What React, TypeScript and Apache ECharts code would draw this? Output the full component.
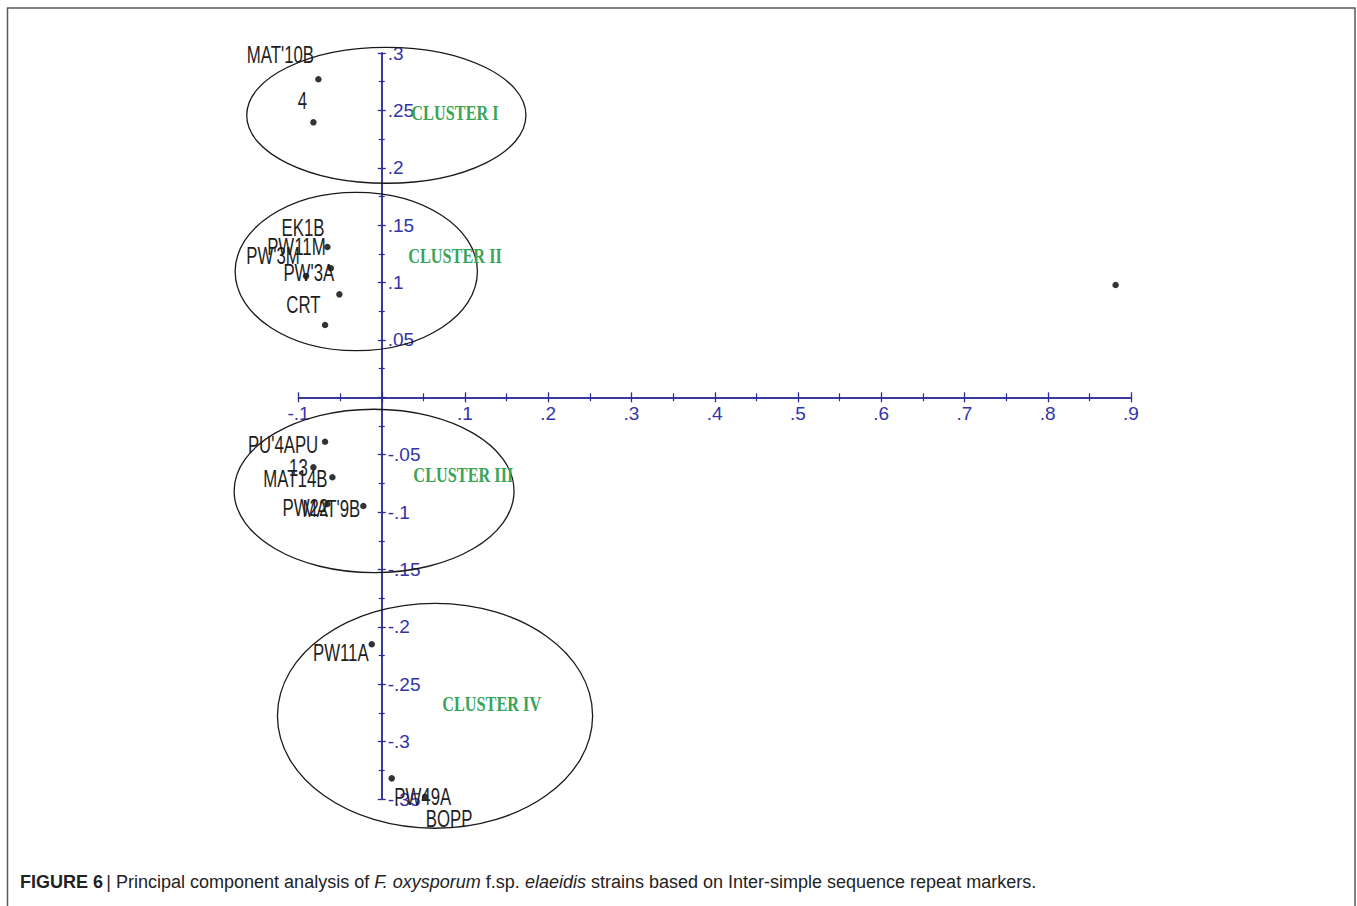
import React, { useEffect, useRef } from "react";
import * as echarts from "echarts";

// ---- data (PC1, PC2 scores) ----
const strainNames = [
  "MAT'10B", "4",
  "PW11M", "PW'3A", "PW'3M", "CRT", "EK1B",
  "",
  "PU'4APU", "13", "MAT14B", "PW22", "MAT'9B",
  "PW11A", "PW49A", "BOPP",
];
const pc1 = [
  -0.0761, -0.0821,
  -0.0653, -0.0612, -0.0909, -0.0509, -0.0681,
  0.8815,
  -0.0681, -0.0821, -0.0593, -0.0653, -0.0221,
  -0.012, 0.012, 0.052,
];
const pc2 = [
  0.2771, 0.2396,
  0.131, 0.1124, 0.1057, 0.0897, 0.063,
  0.0979,
  -0.0387, -0.061, -0.0697, -0.093, -0.0947,
  -0.2152, -0.332, -0.348,
];

// label placement (pixel offsets of label centre from the marker)
const labelDx = [-38, -11, -31, -22, -33, -36, -22, 0, -42, -15, -37, -22, -32, -31, 31, 24];
const labelDy = [-24, -21, 0, 5, -20, 11, -97, 0, 3, 1, 2, 4, 3, 9, 19, 22];

// cluster ellipses: centre x, centre y, radius x, radius y (data units)
const clusterCx = [0.0055, -0.0306, -0.0092, 0.064];
const clusterCy = [0.2457, 0.1096, -0.0816, -0.2775];
const clusterRx = [0.1677, 0.1455, 0.1681, 0.1893];
const clusterRy = [0.0592, 0.069, 0.0712, 0.098];
const clusterNames = ["CLUSTER I", "CLUSTER II", "CLUSTER III", "CLUSTER IV"];
const clusterLabelX = [0.088, 0.088, 0.098, 0.132];
const clusterLabelY = [0.248, 0.1234, -0.0677, -0.2672];

const xMin = -0.1, xMax = 0.9, xStep = 0.1;
const yMin = -0.35, yMax = 0.3, yStep = 0.05;

const GRID_LEFT = 298.5, GRID_TOP = 53, GRID_W = 832.5, GRID_H = 746;

const AXIS_BLUE = "#2c2c98";
const LABEL_BLUE = "#3434aa";
const SANS = "'Liberation Sans', Arial, sans-serif";

function fmt(v: number): string {
  if (Math.abs(v) < 1e-9) return "";
  const s = String(parseFloat(v.toFixed(3)));
  return s.replace(/^(-?)0\./, "$1.");
}

export default function App() {
  const ref = useRef<HTMLDivElement>(null);
  useEffect(() => {
    if (!ref.current) return;
    const chart = echarts.init(ref.current, undefined, { renderer: "svg" });

    const pointData = strainNames.map((n, i) => ({ name: n, value: [pc1[i], pc2[i]] }));
    const ellipseData = clusterCx.map((cx, i) => [cx, clusterCy[i], clusterRx[i], clusterRy[i]]);
    const clusterTextData = clusterNames.map((n, i) => ({ name: n, value: [clusterLabelX[i], clusterLabelY[i]] }));

    // place the axes through the origin (moves line, ticks and labels together)
    const xAxisOffset = -GRID_H * (0 - yMin) / (yMax - yMin);
    const yAxisOffset = -GRID_W * (0 - xMin) / (xMax - xMin);

    const baseX = {
      type: "value" as const,
      min: xMin,
      max: xMax,
      interval: xStep,
      position: "bottom" as const,
      offset: xAxisOffset,
      splitLine: { show: false },
      axisLine: { show: true, onZero: false, lineStyle: { color: AXIS_BLUE, width: 1.5 } },
    };
    const baseY = {
      type: "value" as const,
      min: yMin,
      max: yMax,
      interval: yStep,
      position: "left" as const,
      offset: yAxisOffset,
      splitLine: { show: false },
      axisLine: { show: true, onZero: false, lineStyle: { color: AXIS_BLUE, width: 1.5 } },
    };

    chart.setOption({
      animation: false,
      backgroundColor: "#ffffff",
      grid: { left: GRID_LEFT, top: GRID_TOP, width: GRID_W, height: GRID_H, containLabel: false },
      xAxis: [
        {
          ...baseX,
          axisTick: { show: true, inside: false, length: 5, lineStyle: { color: AXIS_BLUE, width: 1.3 } },
          minorTick: { show: true, splitNumber: 2, length: 4, lineStyle: { color: AXIS_BLUE, width: 1.2 } },
          axisLabel: {
            show: true,
            margin: 7,
            formatter: (v: number) => fmt(v),
            color: LABEL_BLUE,
            fontSize: 19,
            fontFamily: SANS,
          },
        },
        {
          ...baseX,
          axisTick: { show: true, inside: true, length: 5, lineStyle: { color: AXIS_BLUE, width: 1.3 } },
          minorTick: { show: true, splitNumber: 2, length: 4, lineStyle: { color: AXIS_BLUE, width: 1.2 } },
          axisLabel: { show: false },
        },
      ],
      yAxis: [
        {
          ...baseY,
          axisTick: { show: true, inside: true, length: 4, lineStyle: { color: AXIS_BLUE, width: 1.3 } },
          minorTick: { show: true, splitNumber: 2, length: 3, lineStyle: { color: AXIS_BLUE, width: 1.2 } },
          axisLabel: {
            show: true,
            inside: true,
            margin: 6,
            formatter: (v: number) => fmt(v),
            color: LABEL_BLUE,
            fontSize: 19,
            fontFamily: SANS,
          },
        },
        {
          ...baseY,
          axisTick: { show: true, inside: false, length: 4, lineStyle: { color: AXIS_BLUE, width: 1.3 } },
          minorTick: { show: true, splitNumber: 2, length: 3, lineStyle: { color: AXIS_BLUE, width: 1.2 } },
          axisLabel: { show: false },
        },
      ],
      series: [
        {
          type: "custom",
          name: "clusters",
          xAxisIndex: 0,
          yAxisIndex: 0,
          clip: false,
          silent: true,
          data: ellipseData,
          renderItem: (params: any, api: any) => {
            const c = api.coord([api.value(0), api.value(1)]);
            const s = api.size([api.value(2), api.value(3)]);
            return {
              type: "ellipse",
              shape: { cx: c[0], cy: c[1], rx: s[0], ry: s[1] },
              style: { fill: "none", stroke: "#1a1a1a", lineWidth: 1.3 },
            };
          },
          z: 1,
        },
        {
          type: "custom",
          name: "cluster labels",
          xAxisIndex: 0,
          yAxisIndex: 0,
          clip: false,
          silent: true,
          data: clusterTextData,
          renderItem: (params: any, api: any) => {
            const c = api.coord([api.value(0), api.value(1)]);
            return {
              type: "text",
              x: c[0],
              y: c[1],
              scaleX: 0.74,
              style: {
                text: clusterNames[params.dataIndex],
                fill: "#3aa457",
                font: "bold 22px 'Liberation Serif', 'Times New Roman', serif",
                align: "center",
                verticalAlign: "middle",
              },
            };
          },
          z: 3,
        },
        {
          type: "scatter",
          name: "strains",
          xAxisIndex: 0,
          yAxisIndex: 0,
          symbol: "circle",
          symbolSize: 6.5,
          itemStyle: { color: "#000000" },
          data: pointData,
          label: { show: false },
          z: 4,
        },
        {
          type: "custom",
          name: "strain labels",
          xAxisIndex: 0,
          yAxisIndex: 0,
          clip: false,
          silent: true,
          data: pointData,
          renderItem: (params: any, api: any) => {
            const i = params.dataIndex;
            const c = api.coord([api.value(0), api.value(1)]);
            return {
              type: "text",
              x: c[0] + labelDx[i],
              y: c[1] + labelDy[i],
              scaleX: 0.73,
              style: {
                text: strainNames[i],
                fill: "#1e1e1e",
                font: "23px " + SANS,
                align: "center",
                verticalAlign: "middle",
              },
            };
          },
          z: 5,
        },
      ],
      graphic: [
        {
          type: "rect",
          shape: { x: 7.5, y: 8, width: 1347.5, height: 1000 },
          style: { fill: "none", stroke: "#5a5a5a", lineWidth: 1.5 },
          silent: true,
        },
        {
          type: "text",
          x: 20,
          y: 882,
          style: {
            text:
              "{b|FIGURE 6} {n|| Principal component analysis of }{i|F. oxysporum}{n| f.sp. }{i|elaeidis}{n| strains based on Inter-simple sequence repeat markers.}",
            verticalAlign: "middle",
            align: "left",
            rich: {
              b: { fontWeight: "bold", fontSize: 18, fill: "#222", fontFamily: SANS },
              n: { fontSize: 18, fill: "#222", fontFamily: SANS },
              i: { fontStyle: "italic", fontSize: 18, fill: "#222", fontFamily: SANS },
            },
          },
          silent: true,
        },
      ],
    });
    return () => chart.dispose();
  }, []);

  return (
    <div
      ref={ref}
      style={{ position: "absolute", left: 0, top: 0, width: 1357, height: 906, background: "#fff" }}
    />
  );
}
